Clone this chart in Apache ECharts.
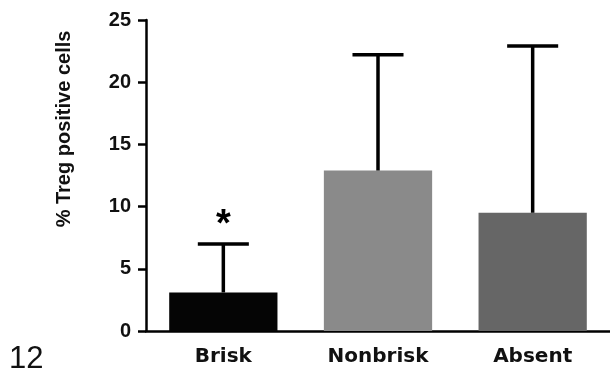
<!DOCTYPE html>
<html>
<head>
<meta charset="utf-8">
<script src="https://cdn.jsdelivr.net/npm/echarts@6/dist/echarts.min.js"></script>
<style>
  html, body { margin: 0; padding: 0; background: #fff; }
  #chart { width: 610px; height: 381px; }
</style>
</head>
<body>
<div id="chart"></div>
<script>
// Treg infiltration by TIL pattern: mean with upper SD whisker
const categories = ['Brisk', 'Nonbrisk', 'Absent'];
const meanValues = [3.1, 12.9, 9.5];
const upperValues = [7.0, 22.2, 22.9];
const significance = ['*', '', ''];
const barColors = ['#050505', '#8a8a8a', '#666666'];
const yTicks = [0, 5, 10, 15, 20, 25];

const chart = echarts.init(document.getElementById('chart'));

const whiskerData = categories.map((c, i) => [i, meanValues[i], upperValues[i], significance[i]]);

chart.setOption({
  animation: false,
  backgroundColor: '#ffffff',
  grid: { left: 146, right: 0, top: 20, bottom: 50 },
  xAxis: {
    type: 'category',
    data: categories,
    axisLine: { lineStyle: { color: '#000', width: 2.5 } },
    axisTick: { alignWithLabel: true, length: 8, lineStyle: { color: '#000', width: 2.5 } },
    axisLabel: {
      margin: 16,
      color: '#111',
      fontFamily: 'DejaVu Sans',
      fontWeight: 'bold',
      fontSize: 20
    }
  },
  yAxis: {
    type: 'value',
    min: yTicks[0],
    max: yTicks[yTicks.length - 1],
    interval: 5,
    splitLine: { show: false },
    axisLine: { show: true, lineStyle: { color: '#000', width: 2.5 } },
    axisTick: { show: true, length: 8, lineStyle: { color: '#000', width: 2.5 } },
    axisLabel: {
      margin: 15,
      color: '#111',
      fontFamily: 'Liberation Sans',
      fontWeight: 'bold',
      fontSize: 20
    }
  },
  graphic: [
    {
      type: 'text',
      x: 64,
      y: 129,
      rotation: Math.PI / 2,
      style: {
        text: '% Treg positive cells',
        fontFamily: 'Liberation Sans',
        fontWeight: 'bold',
        fontSize: 20,
        fill: '#111',
        align: 'center',
        verticalAlign: 'middle'
      }
    },
    {
      type: 'text',
      left: 9,
      top: 344,
      style: {
        text: '12',
        fontFamily: 'Liberation Sans',
        fontSize: 31,
        fill: '#111'
      }
    }
  ],
  series: [
    {
      type: 'bar',
      barWidth: '70%',
      data: meanValues.map((v, i) => ({ value: v, itemStyle: { color: barColors[i] } })),
      z: 2
    },
    {
      type: 'custom',
      z: 3,
      data: whiskerData,
      renderItem: function (params, api) {
        const i = api.value(0);
        const base = api.coord([i, api.value(1)]);
        const top = api.coord([i, api.value(2)]);
        const capHalf = api.size([1, 0])[0] * 0.165;
        const stroke = { stroke: '#000', lineWidth: 3.5 };
        const children = [
          { type: 'line', shape: { x1: base[0], y1: base[1], x2: top[0], y2: top[1] }, style: stroke },
          { type: 'line', shape: { x1: top[0] - capHalf, y1: top[1], x2: top[0] + capHalf, y2: top[1] }, style: stroke }
        ];
        const mark = significance[i];
        if (mark) {
          children.push({
            type: 'text',
            x: top[0],
            y: top[1] + 1,
            style: {
              text: mark,
              fontFamily: 'Liberation Sans',
              fontWeight: 'bold',
              fontSize: 38,
              fill: '#000',
              align: 'center',
              verticalAlign: 'bottom'
            }
          });
        }
        return { type: 'group', children: children };
      }
    }
  ]
});
</script>
</body>
</html>
